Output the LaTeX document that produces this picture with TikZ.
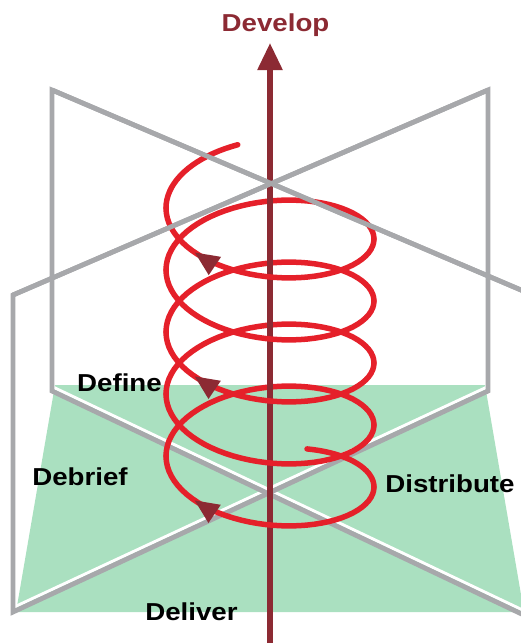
\documentclass[tikz,border=0pt]{standalone}
\usepackage{fontspec}
\newfontfamily\lblfont[FakeStretch=1.13]{Liberation Sans}
\usetikzlibrary{arrows.meta}
\definecolor{helixred}{HTML}{E5202A}
\definecolor{axisred}{HTML}{8C2A33}
\definecolor{planegray}{HTML}{A7A8AB}
\definecolor{floorgreen}{HTML}{AAE0C0}
\begin{document}
\begin{tikzpicture}[x=1pt, y=-1pt,
    declare function={hx(\t)=270+104*cos(\t r); hy(\t)=487-9.868*\t+53.5*sin(\t r);}]
    % Styles
    \tikzstyle{phase label}=[font=\lblfont\bfseries\fontsize{24.5}{29}\selectfont, anchor=base, inner sep=0pt]
    \tikzstyle{plane edge}=[planegray, line width=4.8pt]
    \tikzstyle{floor glint}=[white, line width=3pt]
    \tikzstyle{helix line}=[helixred, line width=5.5pt, line cap=round]
    \tikzstyle{axis line}=[axisred, line width=5.5pt, -{Triangle[length=27pt, width=24pt]}]

    \useasboundingbox (0,0) rectangle (521,643);
    \clip (0,0) rectangle (521,643);

    % --- Floor ---
    \coordinate (f_back_left) at (55,385);
    \coordinate (f_back_right) at (485,385);
    \coordinate (f_front_right) at (524,612);
    \coordinate (f_front_left) at (16,612);
    \fill[floorgreen] (f_back_left) -- (f_back_right) -- (f_front_right) -- (f_front_left) -- cycle;

    % --- Vertical planes ---
    % Plane A: back left to front right
    \coordinate (a_top) at (52,90);
    \coordinate (a_bot) at (52,391);
    \coordinate (a_top_front) at (528,293);
    \coordinate (a_bot_front) at (528,617);
    % Plane B: back right to front left
    \coordinate (b_top) at (488,90);
    \coordinate (b_bot) at (488,391);
    \coordinate (b_top_front) at (13,295);
    \coordinate (b_bot_front) at (13,612);

    % Edges on the floor, with a white glint below
    \draw[floor glint] ([yshift=4.4pt]a_bot) -- ([yshift=4.4pt]a_bot_front);
    \draw[floor glint] ([yshift=4.4pt]b_bot_front) -- ([yshift=4.4pt]b_bot);
    \draw[plane edge] (a_top) -- (a_bot) -- (a_bot_front) -- (a_top_front) -- cycle;
    \draw[plane edge] (b_top) -- (b_bot) -- (b_bot_front) -- (b_top_front) -- cycle;

    % --- Helix: back halves ---
    \draw[helix line] plot[domain=-1.207:0, samples=20, variable=\t] ({hx(\t)},{hy(\t)});
    \foreach \k in {1,...,4} {
        \pgfmathsetmacro{\ta}{(2*\k-1)*pi}
        \pgfmathsetmacro{\tb}{2*\k*pi}
        \draw[helix line] plot[domain=\ta:\tb, samples=40, variable=\t] ({hx(\t)},{hy(\t)});
    }
    \draw[helix line] plot[domain=9*pi:29.53, samples=20, variable=\t] ({hx(\t)},{hy(\t)});

    % --- Axis ---
    \coordinate (axis_bot) at (270,650);
    \coordinate (axis_top) at (270,43);
    \draw[axis line] (axis_bot) -- (axis_top);
    \node[phase label, text=axisred] (develop) at (275.5,31) {Develop};

    % --- Helix: front halves ---
    \foreach \k in {0,...,4} {
        \pgfmathsetmacro{\ta}{2*\k*pi}
        \pgfmathsetmacro{\tb}{(2*\k+1)*pi}
        \draw[helix line] plot[domain=\ta:\tb, samples=40, variable=\t] ({hx(\t)},{hy(\t)});
    }

    % Arrow heads along the helix (every second turn)
    \foreach \tz in {2.38, 14.946, 27.51} {
        \pgfmathsetmacro{\px}{hx(\tz)}
        \pgfmathsetmacro{\py}{hy(\tz)}
        \pgfmathsetmacro{\dx}{-104*sin(\tz r)}
        \pgfmathsetmacro{\dy}{-9.868+53.5*cos(\tz r)}
        \pgfmathsetmacro{\len}{veclen(\dx,\dy)}
        \pgfmathsetmacro{\ux}{\dx/\len}
        \pgfmathsetmacro{\uy}{\dy/\len}
        \coordinate (tip) at (\px,\py);
        \coordinate (tip_l) at ({\px-24*\ux-11*\uy},{\py-24*\uy+11*\ux});
        \coordinate (tip_r) at ({\px-24*\ux+11*\uy},{\py-24*\uy-11*\ux});
        \fill[axisred] (tip) -- (tip_l) -- (tip_r) -- cycle;
    }

    % Top edges lie over the helix
    \draw[plane edge] (a_top) -- (a_top_front);
    \draw[plane edge] (b_top_front) -- (b_top);

    % --- Phase labels ---
    \node[phase label] (define) at (119.5,391) {Define};
    \node[phase label] (debrief) at (80,485) {Debrief};
    \node[phase label] (distribute) at (450,492) {Distribute};
    \node[phase label] (deliver) at (191.5,620) {Deliver};
\end{tikzpicture}
\end{document}
